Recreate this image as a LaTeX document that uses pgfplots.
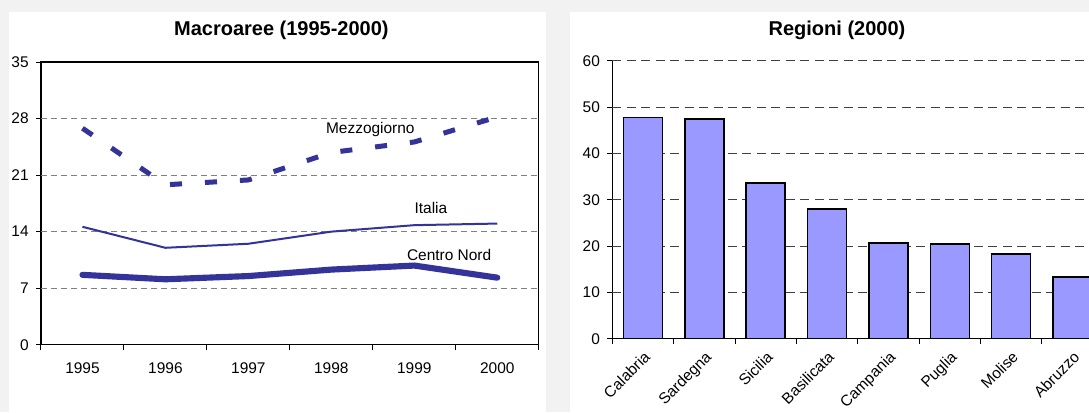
\documentclass[border=0pt]{standalone}
\usepackage{fontspec}
\setmainfont{Liberation Sans}
\usepackage{pgfplots}
\pgfplotsset{compat=1.18}
\definecolor{navy}{HTML}{333399}
\definecolor{barfill}{HTML}{9999FF}
\definecolor{bg}{HTML}{F2F2F2}
\newcommand\tickfont{\fontsize{11.6}{13.9}\selectfont}
\newcommand\titlefont{\bfseries\fontsize{15}{18}\selectfont}

\begin{document}
\begin{tikzpicture}
% page is 1089x412 px at 0.75pt per px
\useasboundingbox (0pt,0pt) rectangle (816.75pt,309pt);
\fill[bg] (0pt,0pt) rectangle (816.75pt,309pt);
\fill[white] (6.75pt,0pt) rectangle (409.5pt,300pt);
\fill[white] (427.5pt,0pt) rectangle (816.75pt,300pt);
\clip (0pt,0pt) rectangle (816.75pt,309pt);

% left: Macroaree
\begin{axis}[
  at={(30.75pt,50.475pt)}, anchor=south west, scale only axis,
  width=373.3pt, height=212pt,
  xmin=1994.5, xmax=2000.5, ymin=0, ymax=35,
  xtick={1994.5,1995.5,...,2000.5}, xticklabels={},
  extra x ticks={1995,1996,1997,1998,1999,2000},
  extra x tick labels={1995,1996,1997,1998,1999,2000},
  extra x tick style={tick style={draw=none}},
  ytick={0,7,...,35},
  extra y ticks={7,14,21,28}, extra y tick labels={},
  extra y tick style={grid=major},
  grid style={gray, line width=0.75pt, dash pattern=on 4.5pt off 3pt},
  tick align=outside, xtick pos=bottom, ytick pos=left,
  major tick length=3.75pt,
  tick style={black, line width=0.75pt},
  axis line style={black, line width=0.9pt},
  /pgf/number format/assume math mode=true,
  tick label style={font=\tickfont},
  xticklabel style={yshift=-6.5pt},
  yticklabel style={xshift=-2pt},
  clip=false,
]
\addplot[navy, line width=3.75pt, dash pattern=on 9pt off 17.25pt] coordinates {
  (1995,26.8)(1996,19.8)(1997,20.4)(1998,23.8)(1999,25.1)(2000,28.2)};
\addplot[navy, line width=1.5pt] coordinates {
  (1995,14.6)(1996,12.0)(1997,12.5)(1998,14.0)(1999,14.8)(2000,15.0)};
\addplot[navy, line width=4.6pt, line cap=round, line join=round] coordinates {
  (1995,8.65)(1996,8.1)(1997,8.5)(1998,9.3)(1999,9.8)(2000,8.3)};
\node[font=\tickfont] at (axis cs:1998.47,26.7) {Mezzogiorno};
\node[font=\tickfont] at (axis cs:1999.2,16.99) {Italia};
\node[font=\tickfont] at (axis cs:1999.42,11.1) {Centro Nord};
\end{axis}
\node[font=\titlefont] at (211.05pt,286.5pt) {Macroaree (1995-2000)};

% right: Regioni
\begin{axis}[
  at={(459.2pt,54.975pt)}, anchor=south west, scale only axis,
  width=552.3pt, height=208.3pt,
  xmin=-0.5, xmax=11.5, ymin=0, ymax=60,
  axis x line*=bottom, axis y line*=left,
  xtick={-0.5,0.5,...,11.5}, xticklabels={},
  extra x ticks={0,1,2,3,4,5,6,7},
  extra x tick labels={Calabria,Sardegna,Sicilia,Basilicata,Campania,Puglia,Molise,Abruzzo},
  extra x tick style={tick style={draw=none},
    xticklabel style={rotate=45, anchor=north east}},
  ytick={0,10,...,60},
  extra y ticks={10,20,30,40,50,60}, extra y tick labels={},
  extra y tick style={grid=major},
  grid style={black!75, line width=0.75pt, dash pattern=on 6.75pt off 4.1pt},
  tick align=outside, xtick pos=bottom, ytick pos=left,
  major tick length=3.75pt,
  tick style={black, line width=0.75pt},
  axis line style={black, line width=0.9pt, -},
  /pgf/number format/assume math mode=true,
  tick label style={font=\tickfont},
  yticklabel style={xshift=-2pt},
]
\addplot[ybar, bar width=29.25pt, fill=barfill, draw=black, line width=1.1pt] coordinates {
  (0,47.8)(1,47.5)(2,33.6)(3,28.0)(4,20.7)(5,20.5)(6,18.3)(7,13.3)};
\end{axis}
\node[font=\titlefont] at (627.75pt,285.975pt) {Regioni (2000)};
\end{tikzpicture}
\end{document}
